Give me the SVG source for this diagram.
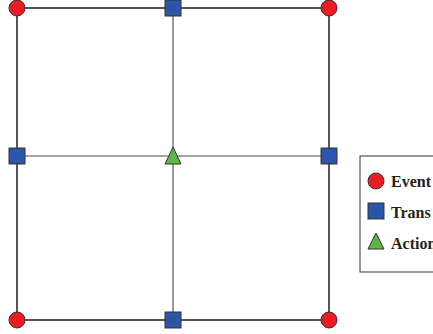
<svg xmlns="http://www.w3.org/2000/svg" width="433" height="334" viewBox="0 0 433 334">
<style>
.outer{stroke:#2b2b2b;stroke-width:1.6;fill:none}
.inner{stroke:#4a4a4a;stroke-width:1.1;fill:none}
.ev{fill:#ec1c24;stroke:#333;stroke-width:1}
.tr{fill:#2b55a8;stroke:#333;stroke-width:1}
.ac{fill:#5cb844;stroke:#333;stroke-width:1}
.lbl{font-family:"Liberation Serif",serif;font-weight:bold;font-size:16px;fill:#231f20}
</style>
<rect width="433" height="334" fill="#fff"/>
<g id="connectors">
<line class="inner" x1="173" y1="8" x2="173" y2="320"/>
<line class="inner" x1="17" y1="156" x2="329" y2="156"/>
<rect class="outer" x="17" y="8" width="312" height="312"/>
</g>
<g id="n-tl"><circle class="ev" cx="17" cy="8" r="8"/></g>
<g id="n-tm"><rect class="tr" x="165" y="0" width="16" height="16"/></g>
<g id="n-tr"><circle class="ev" cx="329" cy="8" r="8"/></g>
<g id="n-ml"><rect class="tr" x="9" y="148" width="16" height="16"/></g>
<g id="n-c"><polygon class="ac" points="173,147 181,164 165,164"/></g>
<g id="n-mr"><rect class="tr" x="321" y="148" width="16" height="16"/></g>
<g id="n-bl"><circle class="ev" cx="17" cy="320" r="8"/></g>
<g id="n-bm"><rect class="tr" x="165" y="312" width="16" height="16"/></g>
<g id="n-br"><circle class="ev" cx="329" cy="320" r="8"/></g>
<g id="legend">
<rect x="360" y="156" width="80" height="116" fill="#fff" stroke="#333" stroke-width="1"/>
<circle class="ev" cx="376" cy="181" r="8"/>
<text class="lbl" x="391" y="187">Event</text>
<rect class="tr" x="368" y="203" width="16" height="16"/>
<text class="lbl" x="391" y="218">Trans</text>
<polygon class="ac" points="376,233 384,249 368,249"/>
<text class="lbl" x="391" y="249">Action</text>
</g>
</svg>
